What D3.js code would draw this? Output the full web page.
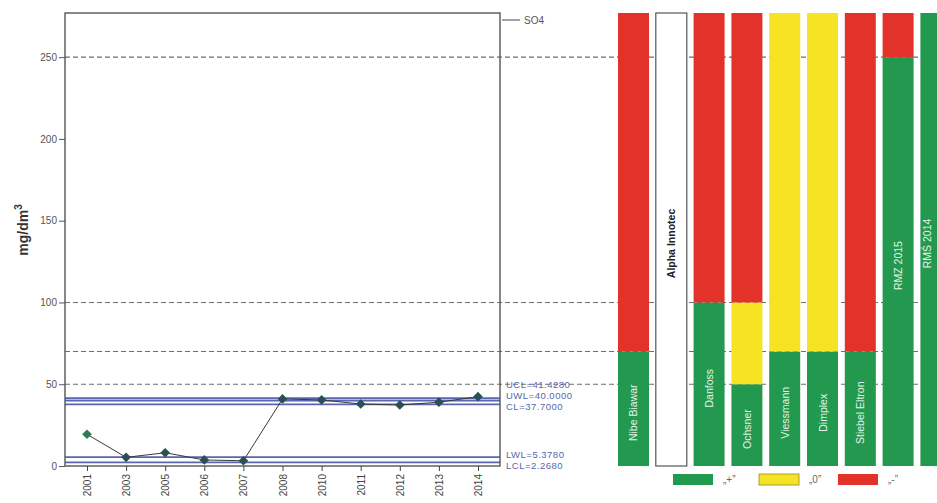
<!DOCTYPE html>
<html>
<head>
<meta charset="utf-8">
<script src="https://cdn.jsdelivr.net/npm/d3@7"></script>
<style>
  html, body { margin: 0; padding: 0; background: #fff; }
  svg { display: block; font-family: "Liberation Sans", Arial, sans-serif; }
</style>
</head>
<body>
<svg id="chart" width="937" height="503"></svg>
<script>
// SO4 concentration by year
const years = ["2001", "2003", "2005", "2006", "2007", "2008", "2010", "2011", "2012", "2013", "2014"];
const so4 = [19.4, 5.3, 8.1, 3.7, 3.2, 41.0, 40.4, 37.9, 37.3, 39.0, 42.4];

// Control chart limits
const limitNames = ["UCL", "UWL", "CL", "LWL", "LCL"];
const limitValues = [41.428, 40.0, 37.7, 5.378, 2.268];
const limitText = ["UCL=41.4280", "UWL=40.0000", "CL=37.7000", "LWL=5.3780", "LCL=2.2680"];

// Reference thresholds (dashed)
const thresholds = [250, 100, 70, 50];

// Y axis
const yMax = 277;
const yTicks = [0, 50, 100, 150, 200, 250];

// Manufacturer / regulation requirement bars
const sources = ["Nibe Biawar", "Alpha Innotec", "Danfoss", "Ochsner", "Viessmann", "Dimplex", "Stiebel Eltron", "RMZ 2015", "RMŚ 2014"];
const greenUpTo = [70, null, 100, 50, 70, 70, 70, 250, 277];
const yellowUpTo = [70, null, 100, 100, 277, 277, 70, 250, 277];

// Legend
const legendLabels = ["„+”", "„0”", "„-”"];

const colors = { green: "#22994f", yellow: "#f6e424", red: "#e2322a" };

const svg = d3.select("#chart");
const plotL = 65, plotR = 500, plotT = 13, plotB = 466;

const y = d3.scaleLinear().domain([0, yMax]).range([plotB, plotT]);
const x = d3.scalePoint().domain(years).range([87, 478]);
const xb = d3.scaleBand().domain(sources).range([618, 951.4]).paddingInner(0.18).paddingOuter(0);

// threshold dashed lines, spanning both panels
svg.append("g").selectAll("line").data(thresholds).join("line")
  .attr("x1", plotL).attr("x2", 937)
  .attr("y1", d => y(d)).attr("y2", d => y(d))
  .attr("stroke", "#6f6f6f").attr("stroke-width", 1.1)
  .attr("stroke-dasharray", "5,3");

// bars
const segs = [];
sources.forEach((s, i) => {
  if (greenUpTo[i] === null) {
    segs.push({ s, y0: 0, y1: yMax, fill: "#fff", stroke: "#555" });
    return;
  }
  segs.push({ s, y0: 0, y1: greenUpTo[i], fill: colors.green });
  if (yellowUpTo[i] > greenUpTo[i]) segs.push({ s, y0: greenUpTo[i], y1: yellowUpTo[i], fill: colors.yellow });
  if (yMax > yellowUpTo[i]) segs.push({ s, y0: yellowUpTo[i], y1: yMax, fill: colors.red });
});
svg.append("g").selectAll("rect").data(segs).join("rect")
  .attr("x", d => xb(d.s)).attr("width", xb.bandwidth())
  .attr("y", d => y(d.y1)).attr("height", d => y(d.y0) - y(d.y1))
  .attr("fill", d => d.fill)
  .attr("stroke", d => d.stroke || "none").attr("stroke-width", 1.2);

// bar labels, centred in the green part (whole bar for the blank one)
svg.append("g").selectAll("text").data(sources).join("text")
  .attr("transform", (d, i) => {
    const cx = Math.min(xb(d) + xb.bandwidth() / 2 + 4, 931);
    const top = greenUpTo[i] === null ? yMax : greenUpTo[i];
    const cy = (y(0) + y(top)) / 2 + 4;
    return `translate(${cx},${cy}) rotate(-90)`;
  })
  .attr("text-anchor", "middle")
  .attr("font-size", (d, i) => greenUpTo[i] === null ? 10.5 : 10.5)
  .attr("font-weight", (d, i) => greenUpTo[i] === null ? "bold" : "normal")
  .attr("fill", (d, i) => greenUpTo[i] === null ? "#222" : "#e3f3e8")
  .text(d => d);

// plot frame
svg.append("rect")
  .attr("x", plotL).attr("y", plotT).attr("width", plotR - plotL).attr("height", plotB - plotT)
  .attr("fill", "none").attr("stroke", "#555").attr("stroke-width", 1.4);

// control limits
svg.append("g").selectAll("line").data(limitValues).join("line")
  .attr("x1", plotL).attr("x2", plotR)
  .attr("y1", d => y(d)).attr("y2", d => y(d))
  .attr("stroke", "#4657a8").attr("stroke-width", 1.8).attr("opacity", 0.9);

// limit labels
const labelY = [385, 396, 407, 455, 466];
svg.append("g").selectAll("text").data(limitText).join("text")
  .attr("x", 506).attr("y", (d, i) => labelY[i]).attr("dy", "0.35em")
  .attr("font-size", 9.5).attr("letter-spacing", 0.5).attr("fill", "#5668a8")
  .text(d => d);

// series line and markers
const pts = years.map((yr, i) => [x(yr), y(so4[i])]);
svg.append("path")
  .attr("d", d3.line()(pts))
  .attr("fill", "none").attr("stroke", "#3a3a3a").attr("stroke-width", 1);
svg.append("g").selectAll("path").data(pts).join("path")
  .attr("transform", d => `translate(${d[0]},${d[1]})`)
  .attr("d", d3.symbol(d3.symbolDiamond2, 60))
  .attr("fill", (d, i) => i === 0 ? "#2f7a55" : "#2c4f55");

// series label
svg.append("line").attr("x1", 502).attr("x2", 520).attr("y1", 20).attr("y2", 20)
  .attr("stroke", "#444").attr("stroke-width", 1);
svg.append("text").attr("x", 524).attr("y", 24).attr("font-size", 10).attr("fill", "#555").text("SO4");

// y axis
const yAxis = svg.append("g").attr("transform", `translate(${plotL},0)`)
  .call(d3.axisLeft(y).tickValues(yTicks).tickSize(6).tickPadding(2));
yAxis.select(".domain").remove();
yAxis.selectAll("line").attr("stroke", "#555");
yAxis.selectAll("text").attr("font-size", 10).attr("fill", "#555").attr("font-family", "Liberation Sans, Arial");

// x axis
const xAxis = svg.append("g").attr("transform", `translate(0,${plotB})`)
  .call(d3.axisBottom(x).tickSize(5).tickPadding(3));
xAxis.select(".domain").remove();
xAxis.selectAll("line").attr("stroke", "#444");
xAxis.selectAll("text")
  .attr("font-size", 10).attr("fill", "#444").attr("font-family", "Liberation Sans, Arial")
  .attr("text-anchor", "end")
  .attr("transform", "rotate(-90)")
  .attr("x", -8).attr("y", 0).attr("dy", "0.35em");

// y title
const yt = svg.append("text")
  .attr("transform", `translate(28,230) rotate(-90)`)
  .attr("text-anchor", "middle")
  .attr("font-size", 14).attr("font-weight", "bold").attr("fill", "#333");
yt.append("tspan").text("mg/dm");
yt.append("tspan").attr("dy", -6).attr("font-size", 10).text("3");

// legend
const legendFill = [colors.green, colors.yellow, colors.red];
const legendX = [673, 759, 838];
const lg = svg.append("g");
lg.selectAll("rect").data(legendLabels).join("rect")
  .attr("x", (d, i) => legendX[i]).attr("y", 474)
  .attr("width", 40).attr("height", 11)
  .attr("fill", (d, i) => legendFill[i])
  .attr("stroke", (d, i) => i === 1 ? "#9a8a20" : "none").attr("stroke-width", 0.8);
lg.selectAll("text").data(legendLabels).join("text")
  .attr("x", (d, i) => legendX[i] + 50).attr("y", 483)
  .attr("font-size", 10).attr("fill", "#666")
  .text(d => d);
</script>
</body>
</html>
